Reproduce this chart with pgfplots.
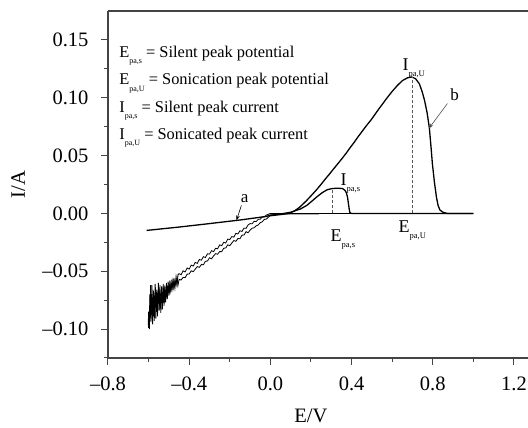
\documentclass[border=0pt]{standalone}
\usepackage{pgfplots}
\pgfplotsset{compat=1.18}
\usepackage{fontspec}
\setmainfont{Liberation Serif}
\usetikzlibrary{arrows.meta}
\definecolor{axcol}{HTML}{444444}
\newcommand{\lsub}[1]{\raisebox{-6.5pt}{\fontsize{8}{9}\selectfont #1}}
\newcommand{\asub}[1]{\raisebox{-0.35em}{\fontsize{8.5}{9}\selectfont #1}}
\begin{document}
\begin{tikzpicture}
\begin{axis}[
  scale only axis, width=420pt, height=347pt,
  xmin=-0.8, xmax=1.269, ymin=-0.125, ymax=0.175,
  axis x line*=bottom, axis y line*=left,
  axis line style={axcol, line width=1.1pt},
  tick align=outside,
  major tick length=7pt, minor tick length=4pt,
  every tick/.style={axcol, line width=1pt},
  xtick={-0.8,-0.4,0,0.4,0.8,1.2},
  xticklabels={\textendash0.8,\textendash0.4,0.0,0.4,0.8,1.2},
  minor xtick={-0.6,-0.2,0.2,0.6,1.0},
  ytick={-0.1,-0.05,0,0.05,0.1,0.15},
  yticklabels={\textendash0.10,\textendash0.05,0.00,0.05,0.10,0.15},
  minor ytick={-0.125,-0.075,-0.025,0.025,0.075,0.125},
  ticklabel style={font=\fontsize{20.5}{24}\selectfont},
  yticklabel style={xshift=-9pt},
  xticklabel style={yshift=-8pt},
  xlabel={E/V}, ylabel={I/A},
  label style={font=\fontsize{20.5}{24}\selectfont},
  xlabel style={at={(axis description cs:0.483,0)}, anchor=base, yshift=-65pt},
  ylabel style={at={(axis description cs:-0.198,0.5)}, anchor=base},
  clip=false,
]
% top frame line
\draw[axcol, line width=1.1pt] (rel axis cs:0,1) -- (rel axis cs:1,1);

% grey baseline under flat part
\addplot[gray!60, line width=2.2pt] coordinates {(0.0,-0.0008) (0.24,-0.0008)};

% sonicated scan (b) forward: noisy lower branch then big peak
\addplot[black, line width=0.8pt] coordinates {
(-0.600,-0.099) (-0.598,-0.086) (-0.596,-0.094) (-0.594,-0.070) (-0.592,-0.090)
(-0.590,-0.062) (-0.587,-0.088) (-0.584,-0.075) (-0.581,-0.095) (-0.578,-0.066)
(-0.575,-0.084) (-0.572,-0.072) (-0.569,-0.090) (-0.566,-0.064) (-0.563,-0.080)
(-0.560,-0.069) (-0.557,-0.087) (-0.554,-0.068) (-0.551,-0.078) (-0.548,-0.065)
(-0.545,-0.083) (-0.542,-0.070) (-0.539,-0.076) (-0.536,-0.063) (-0.533,-0.079)
(-0.530,-0.068) (-0.527,-0.074) (-0.524,-0.062) (-0.521,-0.077) (-0.518,-0.066)
(-0.515,-0.072) (-0.512,-0.061) (-0.509,-0.074) (-0.506,-0.064) (-0.503,-0.069)
(-0.500,-0.060) (-0.495,-0.070) (-0.490,-0.061) (-0.485,-0.066) (-0.480,-0.058)
(-0.475,-0.065) (-0.470,-0.059) (-0.465,-0.062) (-0.460,-0.055) (-0.455,-0.062)
(-0.45,-0.0570) (-0.44,-0.0576) (-0.43,-0.0553) (-0.42,-0.0555) (-0.41,-0.0525)
(-0.40,-0.0524) (-0.39,-0.0496) (-0.38,-0.0504) (-0.37,-0.0481) (-0.36,-0.0460)
(-0.35,-0.0466) (-0.34,-0.0442) (-0.33,-0.0444) (-0.32,-0.0413) (-0.31,-0.0412)
(-0.30,-0.0383) (-0.29,-0.0392) (-0.28,-0.0368) (-0.27,-0.0348) (-0.26,-0.0353)
(-0.25,-0.0330) (-0.24,-0.0331) (-0.23,-0.0301) (-0.22,-0.0299) (-0.21,-0.0271)
(-0.20,-0.0279) (-0.19,-0.0256) (-0.18,-0.0235) (-0.17,-0.0241) (-0.16,-0.0217)
(-0.15,-0.0219) (-0.14,-0.0188) (-0.13,-0.0187) (-0.12,-0.0158) (-0.11,-0.0167)
(-0.10,-0.0144) (-0.09,-0.0128) (-0.08,-0.0124) (-0.07,-0.0107) (-0.06,-0.0100)
(-0.05,-0.0080) (-0.04,-0.0072) (-0.03,-0.0052) (-0.02,-0.0049) (-0.01,-0.0032)
(0.00,-0.0020)
};
\addplot[black, line width=1.3pt] coordinates {
(0.00,-0.0020) (0.05,-0.001) (0.094,0.000) (0.12,0.0023) (0.143,0.0052) (0.175,0.0105)
(0.207,0.0165) (0.23,0.021) (0.25,0.0252) (0.27,0.0296) (0.29,0.0338) (0.31,0.0382)
(0.33,0.0425) (0.35,0.0468) (0.374,0.0522) (0.39,0.0562) (0.41,0.0608) (0.43,0.0658)
(0.453,0.0712) (0.475,0.0763) (0.5,0.0818) (0.52,0.0868) (0.537,0.0910) (0.555,0.0952)
(0.57,0.0988) (0.585,0.1022) (0.60,0.1055) (0.625,0.1105) (0.65,0.1148) (0.675,0.1172)
(0.695,0.118) (0.715,0.1165) (0.734,0.112) (0.748,0.105) (0.759,0.098) (0.772,0.087)
(0.783,0.074) (0.791,0.058) (0.798,0.043) (0.808,0.027) (0.818,0.014) (0.826,0.007)
(0.835,0.003) (0.85,0.001) (0.87,0.000) (1.0,0.000)
};
% reverse scan: flat back, then upper noisy branch
\addplot[black, line width=1.1pt] coordinates {(1.0,0.000) (0.0,0.000)};
\addplot[black, line width=0.8pt] coordinates {
(0.00,0.000) (-0.01,-0.0008) (-0.02,-0.0014) (-0.03,-0.0030) (-0.04,-0.0031)
(-0.05,-0.0050) (-0.06,-0.0051) (-0.07,-0.0070) (-0.08,-0.0068) (-0.09,-0.0090)
(-0.10,-0.0088) (-0.11,-0.0100) (-0.12,-0.0129) (-0.13,-0.0127) (-0.14,-0.0156)
(-0.15,-0.0150) (-0.16,-0.0178) (-0.17,-0.0172) (-0.18,-0.0205) (-0.19,-0.0200)
(-0.20,-0.0226) (-0.21,-0.0222) (-0.22,-0.0256) (-0.23,-0.0250) (-0.24,-0.0279)
(-0.25,-0.0272) (-0.26,-0.0306) (-0.27,-0.0301) (-0.28,-0.0331) (-0.29,-0.0322)
(-0.30,-0.0352) (-0.31,-0.0349) (-0.32,-0.0382) (-0.33,-0.0374) (-0.34,-0.0404)
(-0.35,-0.0398) (-0.36,-0.0432) (-0.37,-0.0423) (-0.38,-0.0455) (-0.39,-0.0447)
(-0.40,-0.0482) (-0.41,-0.0472) (-0.42,-0.0506) (-0.43,-0.0496) (-0.44,-0.0530)
(-0.45,-0.0521) (-0.455,-0.053) (-0.46,-0.062) (-0.465,-0.055) (-0.47,-0.064)
(-0.475,-0.056) (-0.48,-0.066) (-0.485,-0.057) (-0.49,-0.068) (-0.495,-0.058)
(-0.50,-0.071) (-0.504,-0.059) (-0.508,-0.074) (-0.512,-0.060) (-0.516,-0.077)
(-0.520,-0.063) (-0.524,-0.080) (-0.528,-0.061) (-0.532,-0.083) (-0.536,-0.064)
(-0.540,-0.086) (-0.544,-0.062) (-0.548,-0.084) (-0.552,-0.060) (-0.556,-0.089)
(-0.560,-0.066) (-0.564,-0.091) (-0.568,-0.061) (-0.572,-0.093) (-0.576,-0.067)
(-0.580,-0.096) (-0.584,-0.062) (-0.588,-0.094) (-0.592,-0.070) (-0.596,-0.100)
(-0.600,-0.085) (-0.602,-0.097)
};

% silent scan (a)
\addplot[black, line width=1.3pt] coordinates {
(-0.61,-0.0147) (-0.45,-0.0118) (-0.3,-0.0088) (-0.15,-0.0057) (-0.02,-0.0026)
(0.0,-0.0015) (0.05,-0.0005) (0.1,0.001) (0.15,0.004) (0.18,0.007) (0.207,0.011)
(0.23,0.0145) (0.256,0.018) (0.28,0.0205) (0.305,0.0215) (0.33,0.0218)
(0.355,0.0215) (0.367,0.020) (0.374,0.018) (0.38,0.014) (0.384,0.009)
(0.388,0.004) (0.392,0.0005) (0.40,0.0) (1.0,0.0)
};

% dashed peak markers
\addplot[gray!70!black, densely dashed, line width=0.7pt] coordinates {(0.305,0) (0.305,0.0215)};
\addplot[gray!70!black, densely dashed, line width=0.7pt] coordinates {(0.70,0) (0.70,0.118)};

% arrows
\draw[-{Stealth[length=5pt,width=3.5pt]}, gray!60!black, line width=0.6pt] (axis cs:0.872,0.095) -- (axis cs:0.781,0.0735);
\draw[-{Stealth[length=5pt,width=3.5pt]}, black, line width=0.6pt] (axis cs:-0.143,0.0069) -- (axis cs:-0.167,-0.006);

% annotations
\node[anchor=base west, inner sep=0, font=\fontsize{18}{20}\selectfont] at (axis cs:0.650,0.1236) {I\asub{pa,U}};
\node[anchor=base west, inner sep=0, font=\fontsize{18}{20}\selectfont] at (axis cs:0.345,0.0242) {I\asub{pa,s}};
\node[anchor=base west, inner sep=0, font=\fontsize{18}{20}\selectfont] at (axis cs:0.296,-0.0242) {E\asub{pa,s}};
\node[anchor=base west, inner sep=0, font=\fontsize{18}{20}\selectfont] at (axis cs:0.631,-0.0164) {E\asub{pa,U}};
\node[anchor=base west, inner sep=0, font=\fontsize{17}{20}\selectfont] at (axis cs:0.886,0.0977) {b};
\node[anchor=base west, inner sep=0, font=\fontsize{17}{20}\selectfont] at (axis cs:-0.147,0.0095) {a};

% definitions text
\node[anchor=base west, inner sep=0, font=\fontsize{16.4}{19}\selectfont] at (axis cs:-0.745,0.135) {E\lsub{pa,s} = Silent peak potential};
\node[anchor=base west, inner sep=0, font=\fontsize{16.4}{19}\selectfont] at (axis cs:-0.745,0.1112) {E\lsub{pa,U} = Sonication peak potential};
\node[anchor=base west, inner sep=0, font=\fontsize{16.4}{19}\selectfont] at (axis cs:-0.745,0.0873) {I\lsub{pa,s} = Silent peak current};
\node[anchor=base west, inner sep=0, font=\fontsize{16.4}{19}\selectfont] at (axis cs:-0.745,0.064) {I\lsub{pa,U} = Sonicated peak current};
\end{axis}
\pgfresetboundingbox
\path[use as bounding box] (-108pt,-70pt) rectangle (420pt,358pt);
\end{tikzpicture}
\end{document}
